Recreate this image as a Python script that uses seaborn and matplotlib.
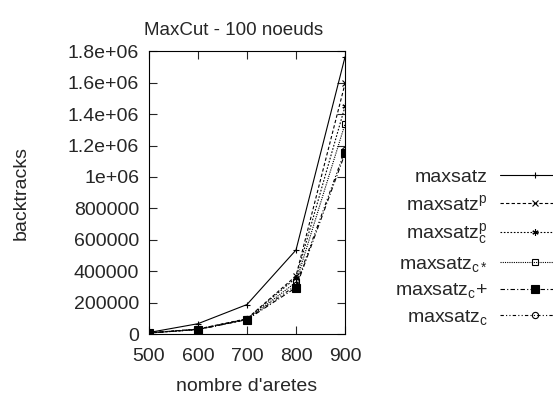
import matplotlib
matplotlib.use("Agg")
import matplotlib.pyplot as plt
import seaborn as sns

# données
aretes = [500, 600, 700, 800, 900]
maxsatz = [10000, 66000, 188000, 535000, 1765000]
maxsatz_p = [8000, 32000, 98000, 370000, 1595000]
maxsatz_cp = [8000, 31000, 96000, 358000, 1450000]
maxsatz_cstar = [7000, 30000, 94000, 330000, 1338000]
maxsatz_cplus = [7000, 29000, 92000, 296000, 1150000]
maxsatz_c = [7000, 29000, 93000, 310000, 1170000]

yticks = [0, 200000, 400000, 600000, 800000, 1000000, 1200000, 1400000, 1600000, 1800000]
ytick_labels = ['0', '200000', '400000', '600000', '800000', '1e+06',
                '1.2e+06', '1.4e+06', '1.6e+06', '1.8e+06']
xticks = [500, 600, 700, 800, 900]

series = [
    ('maxsatz', maxsatz, '-', '+', 'none'),
    ('maxsatz$^\\mathregular{p}$', maxsatz_p, (0, (3, 2)), 'x', 'none'),
    ('maxsatz$_\\mathregular{c}^\\mathregular{p}$', maxsatz_cp, (0, (1.5, 1.5)), (6, 2, 0), 'none'),
    ('maxsatz$_\\mathregular{c*}$', maxsatz_cstar, (0, (1, 1)), 's', 'none'),
    ('maxsatz$_\\mathregular{c}$+', maxsatz_cplus, (0, (4, 2, 1, 2)), 's', 'full'),
    ('maxsatz$_\\mathregular{c}$', maxsatz_c, (0, (3, 2, 1, 2, 1, 2)), 'o', 'none'),
]

sns.set_style("ticks")
plt.rcParams['font.family'] = ['Liberation Sans', 'DejaVu Sans']
plt.rcParams['mathtext.fontset'] = 'custom'
plt.rcParams['mathtext.rm'] = 'Liberation Sans'
plt.rcParams['mathtext.it'] = 'Liberation Sans'

fs = 14
fig = plt.figure(figsize=(5.53, 3.94), dpi=100)
ax = fig.add_axes([0.269, 0.152, 0.355, 0.718])

for label, vals, ls, mk, fill in series:
    sns.lineplot(x=aretes, y=vals, ax=ax, color='black', linewidth=0.8,
                 linestyle=ls, marker=mk,
                 markersize=6 if fill == 'full' else 4.5, fillstyle=fill,
                 markeredgewidth=0.8, markeredgecolor='black',
                 markerfacecolor='black' if fill == 'full' else 'none',
                 label=label)

ax.set_xlim(500, 900)
ax.set_ylim(0, 1800000)
ax.set_xticks(xticks)
ax.set_yticks(yticks)
ax.set_yticklabels(ytick_labels)
ax.tick_params(direction='in', top=True, right=True, labelsize=fs, length=5.5,
               width=0.8)
ax.tick_params(axis='y', pad=7)
ax.tick_params(axis='x', pad=10)
for s in ax.spines.values():
    s.set_linewidth(0.8)
    s.set_color('black')

ax.set_title('MaxCut - 100 noeuds', fontsize=13.5, pad=12, x=0.43)
ax.set_xlabel("nombre d'aretes", fontsize=fs, labelpad=9)
ax.set_ylabel('backtracks', fontsize=fs, labelpad=27)

leg = ax.legend(loc='upper left', bbox_to_anchor=(1.207, 0.62), frameon=False,
                markerfirst=False, fontsize=fs, handlelength=3.6,
                labelspacing=0.4, handletextpad=0.6, borderpad=0)

fig.savefig('out.png', dpi=100)
